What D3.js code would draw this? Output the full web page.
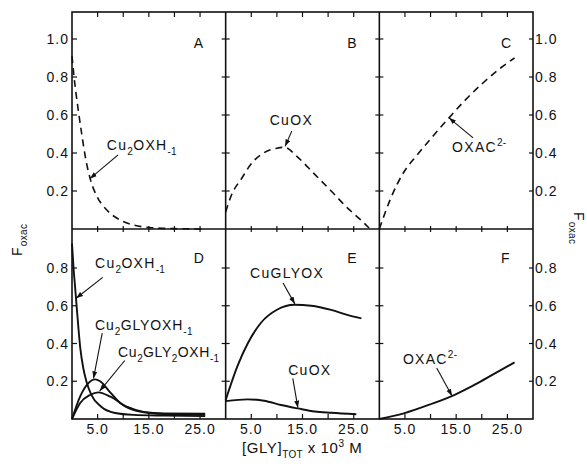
<!DOCTYPE html>
<html>
<head>
<meta charset="utf-8">
<script src="https://d3js.org/d3.v7.min.js"></script>
<style>
  body { margin: 0; background: #fff; }
  text { font-family: "Liberation Sans", Arial, sans-serif; fill: #111; }
</style>
</head>
<body>
<svg width="587" height="464"></svg>
<script>
// values: x = [GLY]tot x 10^3 M, y = F oxac

// A: Cu2OXH-1 (dashed)
var aX = [0, 0.4, 0.8, 1.2, 1.9, 2.6, 3.6, 4.9, 6.8, 9.4, 12, 15, 20, 26];
var aY = [0.91, 0.80, 0.71, 0.63, 0.50, 0.38, 0.26, 0.17, 0.10, 0.047, 0.021, 0.008, 0.002, 0.0];
// B: CuOX (dashed)
var bX = [0, 1, 3.2, 5.2, 7.4, 10, 11.5, 14, 17.3, 20.6, 23.8, 26.4, 28];
var bY = [0.09, 0.17, 0.27, 0.35, 0.40, 0.425, 0.43, 0.38, 0.29, 0.20, 0.11, 0.047, 0.005];
// C: OXAC2- (dashed)
var cX = [0, 2.2, 4.8, 7.4, 10.5, 13.6, 17, 20.5, 23.8, 26.4];
var cY = [0, 0.16, 0.30, 0.39, 0.49, 0.585, 0.685, 0.775, 0.85, 0.90];
// D: Cu2OXH-1, Cu2GLYOXH-1, Cu2GLY2OXH-1
var d1X = [0, 0.3, 0.6, 0.9, 1.6, 2.2, 2.8, 3.8, 5.7, 8.4, 12, 18, 26];
var d1Y = [0.93, 0.80, 0.70, 0.60, 0.38, 0.27, 0.20, 0.127, 0.065, 0.032, 0.022, 0.018, 0.015];
var d2X = [0, 1.6, 3.2, 4.5, 5.5, 7.5, 9.4, 12, 15, 20, 26];
var d2Y = [0, 0.12, 0.19, 0.21, 0.20, 0.14, 0.085, 0.048, 0.032, 0.025, 0.022];
var d3X = [0, 1.6, 3.5, 5.1, 7.5, 10.7, 14, 18, 26];
var d3Y = [0, 0.085, 0.127, 0.141, 0.118, 0.065, 0.038, 0.03, 0.028];
// E: CuGLYOX, CuOX
var e1X = [0, 2.3, 4.3, 6.9, 10.1, 13.4, 16.7, 20.6, 23.9, 26.5];
var e1Y = [0.10, 0.28, 0.40, 0.51, 0.58, 0.605, 0.60, 0.578, 0.55, 0.533];
var e2X = [0, 4.3, 7.5, 10.8, 14.1, 17.4, 20.6, 25.5];
var e2Y = [0.095, 0.104, 0.097, 0.074, 0.056, 0.04, 0.033, 0.025];
// F: OXAC2-
var fX = [0, 4.8, 10, 14.6, 19.2, 23.1, 26.4];
var fY = [0, 0.03, 0.078, 0.127, 0.19, 0.25, 0.30];

var xTicks = [5, 10, 15, 20, 25];
var xTickLabels = ["5.0", "15.0", "25.0"];
var xLabelVals = [5, 15, 25];
var topYTicks = [0.2, 0.4, 0.6, 0.8, 1.0];
var botYTicks = [0.2, 0.4, 0.6, 0.8];

var svg = d3.select("svg");
var L = 72, R = 533, T = 12, MID = 229, B = 419;
var pw = (R - L) / 3;

var yTop = d3.scaleLinear().domain([0, 1]).range([MID, MID - 190]);
var yBot = d3.scaleLinear().domain([0, 1]).range([B, B - 188.75]);
function xScale(col) {
  return d3.scaleLinear().domain([0, 30]).range([L + col * pw, L + (col + 1) * pw]);
}

svg.append("defs").append("marker")
    .attr("id", "arr")
    .attr("markerUnits", "userSpaceOnUse")
    .attr("markerWidth", 8).attr("markerHeight", 6)
    .attr("refX", 7).attr("refY", 3)
    .attr("orient", "auto")
  .append("path")
    .attr("d", "M0,0.5 L7,3 L0,5.5 z")
    .attr("fill", "#111");

// text with sub / superscripts
function rich(g, x, y, parts, size, spacing) {
  var t = g.append("text").attr("x", x).attr("y", y)
      .style("font-size", size + "px");
  var shift = 0;
  parts.forEach(function (p) {
    var s = p[1] === "sub" ? 5 : p[1] === "sup" ? -6 : 0;
    t.append("tspan").attr("dy", s - shift)
        .style("font-size", p[1] ? Math.round(size * 0.68) + "px" : null)
        .style("letter-spacing", p[1] ? "0.3px" : (spacing == null ? 1.3 : spacing) + "px")
        .text(p[0]);
    shift = s;
  });
  return t;
}

var cu2oxh = [["Cu"], ["2", "sub"], ["OXH"], ["-1", "sub"]];
var oxac = [["OXAC"], ["2-", "sup"]];

var panels = [
  {col: 0, row: 0, letter: "A", dash: true, lines: [[aX, aY]],
   notes: [{parts: cu2oxh, at: [6.8, 0.416], from: [9.0, 0.39], tip: [3.5, 0.265]}]},
  {col: 1, row: 0, letter: "B", dash: true, lines: [[bX, bY]],
   notes: [{parts: [["CuOX"]], at: [8.6, 0.545], from: [12.9, 0.515], tip: [11.6, 0.435]}]},
  {col: 2, row: 0, letter: "C", dash: true, lines: [[cX, cY]],
   notes: [{parts: oxac, at: [14.2, 0.405], from: [18.3, 0.48], tip: [13.6, 0.585]}]},
  {col: 0, row: 1, letter: "D", dash: false, lines: [[d1X, d1Y], [d2X, d2Y], [d3X, d3Y]],
   notes: [
     {parts: cu2oxh, at: [4.5, 0.80], from: [6.0, 0.75], tip: [0.8, 0.64]},
     {parts: [["Cu"], ["2", "sub"], ["GLYOXH"], ["-1", "sub"]], at: [4.5, 0.47], from: [5.9, 0.455], tip: [4.2, 0.215], sp: 0.9},
     {parts: [["Cu"], ["2", "sub"], ["GLY"], ["2", "sub"], ["OXH"], ["-1", "sub"]], at: [9.0, 0.328], from: [10.3, 0.31], tip: [5.4, 0.148], sp: 0.6}
   ]},
  {col: 1, row: 1, letter: "E", dash: false, lines: [[e1X, e1Y], [e2X, e2Y]],
   notes: [
     {parts: [["CuGLYOX"]], at: [4.75, 0.747], from: [11.2, 0.72], tip: [13.5, 0.61]},
     {parts: [["CuOX"]], at: [12.2, 0.233], from: [13.1, 0.215], tip: [14.1, 0.06]}
   ]},
  {col: 2, row: 1, letter: "F", dash: false, lines: [[fX, fY]],
   notes: [{parts: oxac, at: [4.6, 0.291], from: [11.2, 0.27], tip: [14.2, 0.122]}]}
];

var line = d3.line().curve(d3.curveMonotoneX);

panels.forEach(function (p) {
  var x = xScale(p.col), y = p.row === 0 ? yTop : yBot;
  var g = svg.append("g");

  p.lines.forEach(function (s) {
    var pts = s[0].map(function (v, i) { return [x(v), y(s[1][i])]; });
    g.append("path")
        .attr("d", line(pts))
        .attr("fill", "none")
        .attr("stroke", "#111")
        .attr("stroke-width", p.dash ? 1.6 : 1.9)
        .attr("stroke-dasharray", p.dash ? "7,5" : null);
  });

  p.notes.forEach(function (n) {
    rich(g, x(n.at[0]), y(n.at[1]), n.parts, 14, n.sp);
    g.append("line")
        .attr("x1", x(n.from[0])).attr("y1", y(n.from[1]))
        .attr("x2", x(n.tip[0])).attr("y2", y(n.tip[1]))
        .attr("stroke", "#111").attr("stroke-width", 1.1)
        .attr("marker-end", "url(#arr)");
  });

  g.append("text")
      .attr("x", x(30) - 32)
      .attr("y", p.row === 0 ? 48 : 263)
      .style("font-size", "14px")
      .text(p.letter);
});

// frame and dividers
var frame = svg.append("g").attr("stroke", "#111").attr("fill", "none");
frame.append("rect").attr("x", L).attr("y", T).attr("width", R - L).attr("height", B - T).attr("stroke-width", 1.6);
frame.append("line").attr("x1", L).attr("x2", R).attr("y1", MID).attr("y2", MID).attr("stroke-width", 1.6);
[1, 2].forEach(function (c) {
  frame.append("line").attr("x1", L + c * pw).attr("x2", L + c * pw).attr("y1", T).attr("y2", B).attr("stroke-width", 1.6);
});

// x ticks
[0, 1, 2].forEach(function (c) {
  var x = xScale(c);
  xTicks.forEach(function (t) {
    frame.append("line").attr("x1", x(t)).attr("x2", x(t)).attr("y1", T).attr("y2", T + 5).attr("stroke-width", 1.2);
    frame.append("line").attr("x1", x(t)).attr("x2", x(t)).attr("y1", MID - 3).attr("y2", MID + 3).attr("stroke-width", 1.2);
    frame.append("line").attr("x1", x(t)).attr("x2", x(t)).attr("y1", B - 5).attr("y2", B).attr("stroke-width", 1.2);
  });
  xLabelVals.forEach(function (t, i) {
    svg.append("text").attr("x", x(t)).attr("y", 434)
        .attr("text-anchor", "middle")
        .style("font-size", "14px").style("letter-spacing", "1px")
        .text(xTickLabels[i]);
  });
});

// y ticks
function yTicks(scale, vals) {
  vals.forEach(function (v) {
    var yy = scale(v);
    frame.append("line").attr("x1", L).attr("x2", L + 5).attr("y1", yy).attr("y2", yy).attr("stroke-width", 1.2);
    frame.append("line").attr("x1", R - 4).attr("x2", R).attr("y1", yy).attr("y2", yy).attr("stroke-width", 1.2);
    [1, 2].forEach(function (c) {
      frame.append("line").attr("x1", L + c * pw - 4).attr("x2", L + c * pw + 4).attr("y1", yy).attr("y2", yy).attr("stroke-width", 1.2);
    });
    var lab = d3.format(".1f")(v);
    svg.append("text").attr("x", L - 3).attr("y", yy + 5).attr("text-anchor", "end")
        .style("font-size", "14px").style("letter-spacing", "1px").text(lab);
    svg.append("text").attr("x", R + 2).attr("y", yy + 5)
        .style("font-size", "14px").style("letter-spacing", "1px").text(lab);
  });
}
yTicks(yTop, topYTicks);
yTicks(yBot, botYTicks);

// axis titles
var yl = svg.append("g").attr("transform", "translate(22,256) rotate(-90)");
rich(yl, 0, 0, [["F"], ["oxac", "sub"]], 14);
var yr = svg.append("g").attr("transform", "translate(574,212) rotate(90)");
rich(yr, 0, 0, [["F"], ["oxac", "sub"]], 14);

rich(svg, 242, 453, [["[GLY]"], ["TOT", "sub"], [" x 10"], ["3", "sup"], [" M"]], 15, 0.6);
</script>
</body>
</html>
